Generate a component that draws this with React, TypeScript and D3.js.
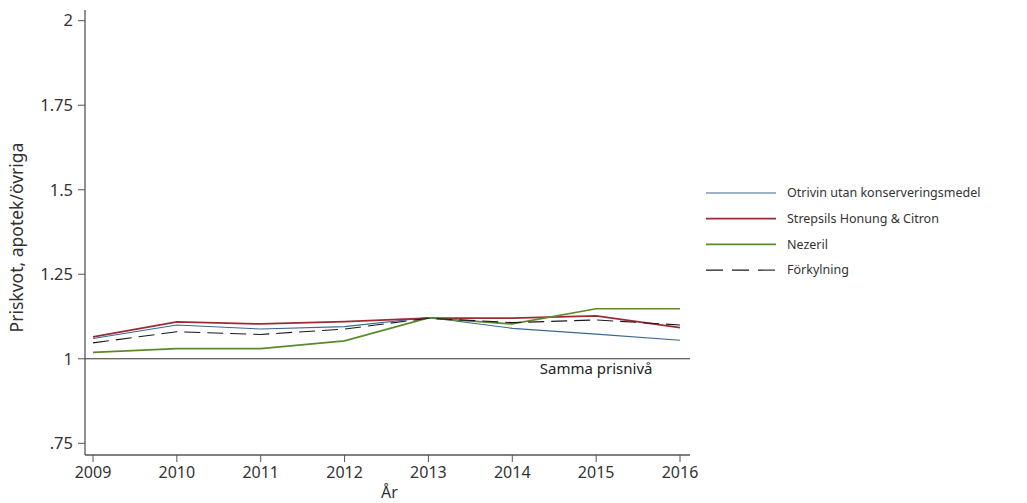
import React from 'react';
import * as d3 from 'd3';

// Price ratio chart, pharmacy vs other stores, 2009-2016.

const WIDTH = 1027;
const HEIGHT = 503;
const MARGIN = { top: 10, right: 337, bottom: 48, left: 85 };
const FONT = "'Noto Sans', 'DejaVu Sans', sans-serif";

const YEARS = [2009, 2010, 2011, 2012, 2013, 2014, 2015, 2016];
const Y_TICKS = [0.75, 1, 1.25, 1.5, 1.75, 2];

const OTRIVIN = [1.06, 1.1, 1.088, 1.095, 1.122, 1.09, 1.073, 1.055];
const STREPSILS = [1.065, 1.109, 1.103, 1.11, 1.12, 1.12, 1.127, 1.092];
const NEZERIL = [1.019, 1.03, 1.03, 1.053, 1.121, 1.103, 1.148, 1.148];
const FORKYLNING = [1.047, 1.08, 1.072, 1.088, 1.12, 1.107, 1.115, 1.1];

const SERIES = [
  { name: 'Otrivin utan konserveringsmedel', values: OTRIVIN, color: '#3c6694', width: 1.1, dash: null },
  { name: 'Strepsils Honung & Citron', values: STREPSILS, color: '#9c2b35', width: 1.7, dash: null },
  { name: 'Nezeril', values: NEZERIL, color: '#5b8a2c', width: 1.7, dash: null },
  { name: 'Förkylning', values: FORKYLNING, color: '#1a1a1a', width: 1.1, dash: '16 7' },
];

export default function App() {
  const plotBottom = 455;
  const x = d3.scaleLinear().domain([2009, 2016]).range([93, 680]);
  const y = d3.scaleLinear().domain([0.75, 2]).range([443.3, 20.7]);
  const xEnd = 690;

  const line = d3
    .line<number>()
    .x((_, i) => x(YEARS[i]))
    .y((d) => y(d));

  return (
    <svg width={WIDTH} height={HEIGHT} style={{ position: 'absolute', left: 0, top: 0, background: '#fff' }}>
      {/* axes */}
      <line x1={MARGIN.left} x2={MARGIN.left} y1={MARGIN.top} y2={plotBottom} stroke="#555" strokeWidth={1.3} />
      <line x1={MARGIN.left} x2={xEnd} y1={plotBottom} y2={plotBottom} stroke="#555" strokeWidth={1.3} />

      {Y_TICKS.map((t) => (
        <g key={t}>
          <line x1={MARGIN.left - 7} x2={MARGIN.left} y1={y(t)} y2={y(t)} stroke="#555" strokeWidth={1} />
          <text
            x={MARGIN.left - 12}
            y={y(t)}
            dy="0.35em"
            textAnchor="end"
            fontFamily={FONT}
            fontSize={16.5}
            fill="#333"
          >
            {t === 0.75 ? '.75' : String(t)}
          </text>
        </g>
      ))}

      {YEARS.map((yr) => (
        <g key={yr}>
          <line x1={x(yr)} x2={x(yr)} y1={plotBottom} y2={plotBottom + 7} stroke="#555" strokeWidth={1} />
          <text x={x(yr)} y={plotBottom + 23} textAnchor="middle" fontFamily={FONT} fontSize={16} fill="#333">
            {yr}
          </text>
        </g>
      ))}

      <text
        transform={`translate(23, ${(MARGIN.top + plotBottom) / 2 + 5}) rotate(-90)`}
        textAnchor="middle"
        fontFamily={FONT}
        fontSize={17.5}
        fill="#333"
      >
        Priskvot, apotek/övriga
      </text>
      <text x={(MARGIN.left + xEnd) / 2 + 2} y={498} textAnchor="middle" fontFamily={FONT} fontSize={16} fill="#333">
        År
      </text>

      {/* reference line */}
      <line x1={MARGIN.left} x2={xEnd} y1={y(1)} y2={y(1)} stroke="#333" strokeWidth={1} />
      <text x={x(2015)} y={y(1) + 15} textAnchor="middle" fontFamily={FONT} fontSize={15} fill="#222">
        Samma prisnivå
      </text>

      {SERIES.map((s) => (
        <path
          key={s.name}
          d={line(s.values) ?? ''}
          fill="none"
          stroke={s.color}
          strokeWidth={s.width}
          strokeDasharray={s.dash ?? undefined}
        />
      ))}

      {/* legend */}
      {SERIES.map((s, i) => {
        const ly = 193 + i * 25.7;
        return (
          <g key={`lg-${s.name}`}>
            <line x1={706} x2={776} y1={ly} y2={ly} stroke={s.color} strokeWidth={s.width} strokeDasharray={s.dash ? '17 9' : undefined} />
            <text x={787} y={ly} dy="0.35em" fontFamily={FONT} fontSize={12.5} fill="#333">
              {s.name}
            </text>
          </g>
        );
      })}
    </svg>
  );
}
